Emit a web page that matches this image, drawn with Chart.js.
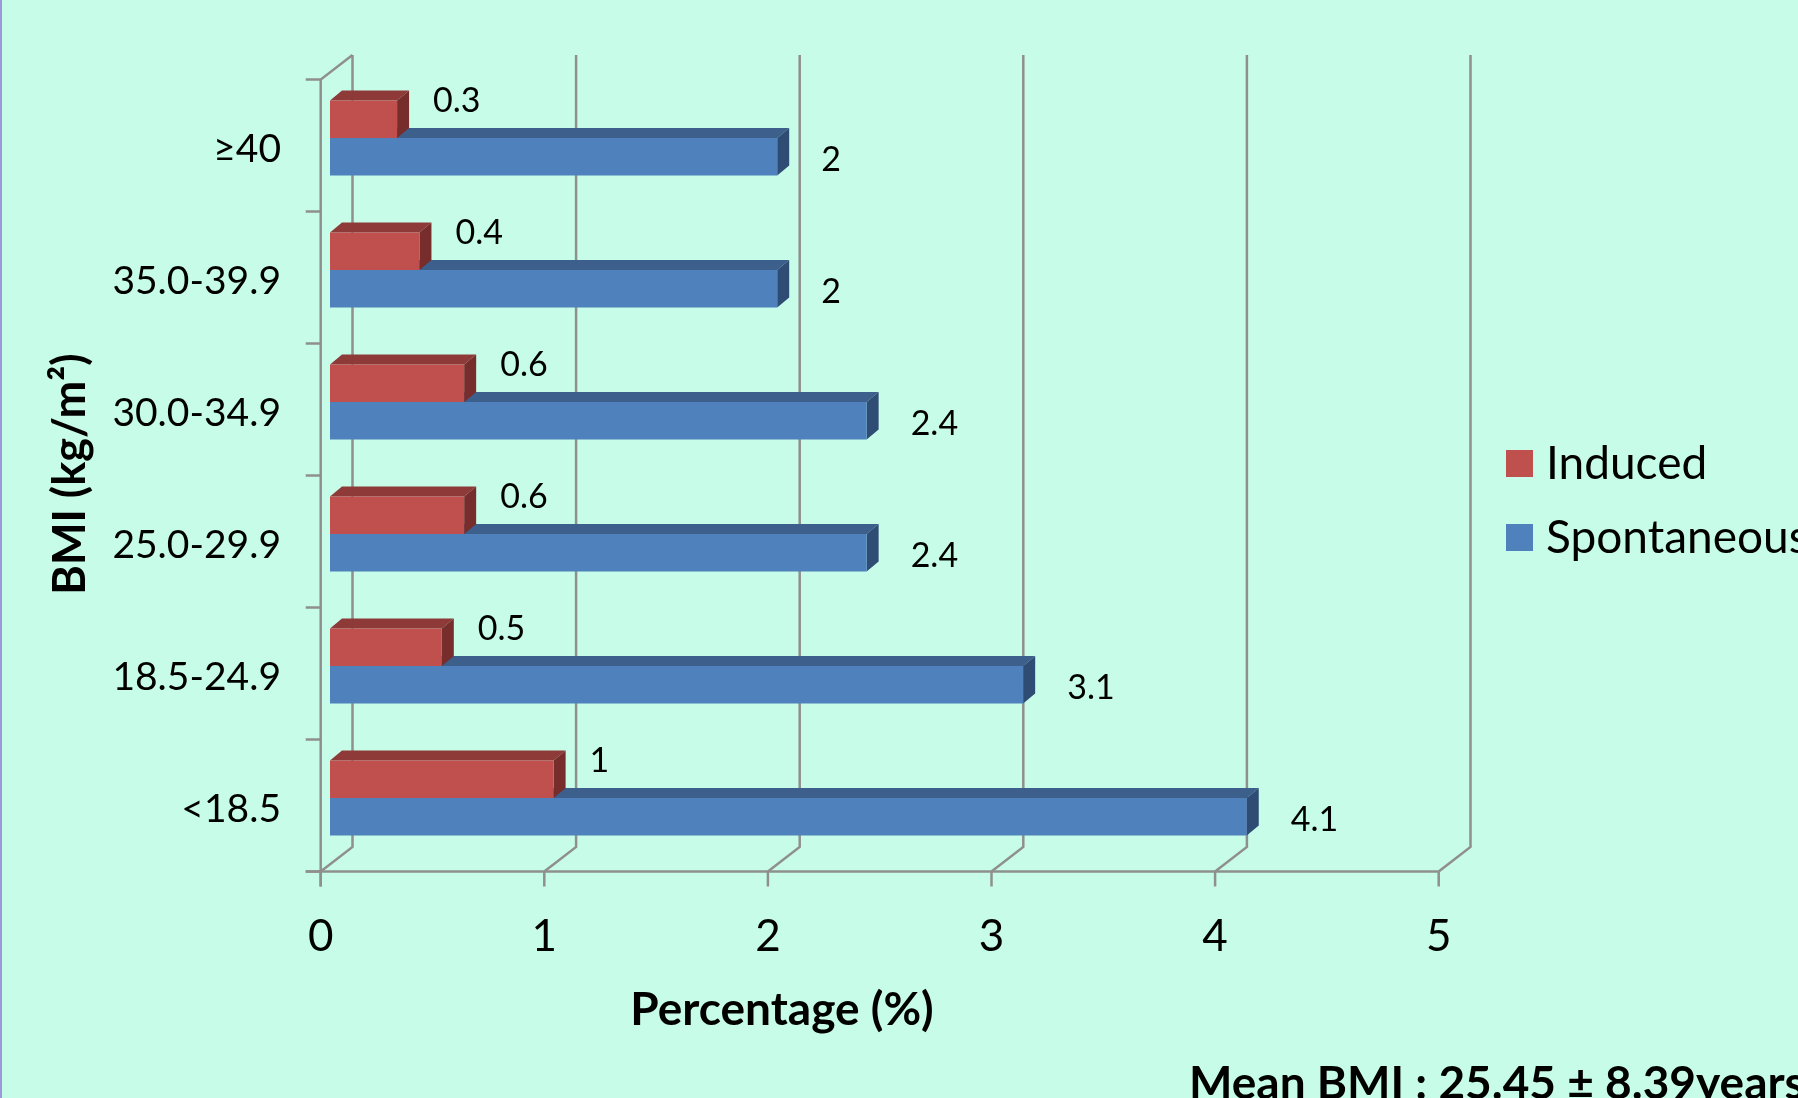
<!DOCTYPE html>
<html>
<head>
<meta charset="utf-8">
<script src="https://cdn.jsdelivr.net/npm/chart.js@4.4.0/dist/chart.umd.min.js"></script>
<style>
  html, body { margin: 0; padding: 0; background: #c7fde8; overflow: hidden; }
  #wrap { width: 1798px; height: 1098px; border-left: 2px solid #9a9ad8; box-sizing: border-box; }
</style>
</head>
<body>
<div id="wrap"><canvas id="bmiChart" width="1796" height="1098"></canvas></div>
<script>
const categories = ['≥40', '35.0-39.9', '30.0-34.9', '25.0-29.9', '18.5-24.9', '<18.5']
const induced = [0.3, 0.4, 0.6, 0.6, 0.5, 1]
const spontaneous = [2, 2, 2.4, 2.4, 3.1, 4.1]
const xTicks = [0, 1, 2, 3, 4, 5]
const seriesNames = ['Induced', 'Spontaneous']

const FONT = 'Lato, "Open Sans", sans-serif'
const GRID = '#8f8f8f'
const FRONT = { dx: -9.3, dy: 7.5 }   // front plane of the box
const BACK = { dx: 22.5, dy: -17 }    // back wall
const DEPTH = { dx: 12, dy: -10 }     // bar depth

const faceColors = [
  { top: '#8d3a38', side: '#772d2b' },
  { top: '#3d5f8b', side: '#2f4c74' }
]

const frame3d = {
  id: 'frame3d',
  beforeDraw(chart) {
    const { ctx, width, height } = chart
    ctx.save()
    ctx.fillStyle = '#c7fde8'
    ctx.fillRect(0, 0, width, height)
    ctx.restore()
  },
  beforeDatasetsDraw(chart) {
    const { ctx, chartArea: a, scales: { x, y } } = chart
    ctx.save()
    ctx.strokeStyle = GRID
    ctx.lineWidth = 2.5

    const line = (pts) => {
      ctx.beginPath()
      ctx.moveTo(pts[0][0], pts[0][1])
      for (let i = 1; i < pts.length; i++) ctx.lineTo(pts[i][0], pts[i][1])
      ctx.stroke()
    }

    // back wall gridlines and floor diagonals
    xTicks.forEach(v => {
      const px = x.getPixelForValue(v)
      line([[px + BACK.dx, a.top + BACK.dy], [px + BACK.dx, a.bottom + BACK.dy], [px + FRONT.dx, a.bottom + FRONT.dy]])
      line([[px + FRONT.dx, a.bottom + FRONT.dy], [px + FRONT.dx, a.bottom + FRONT.dy + 15]])
    })
    // front floor edge
    line([[a.left + FRONT.dx - 15, a.bottom + FRONT.dy], [a.right + FRONT.dx, a.bottom + FRONT.dy]])
    // left wall
    line([[a.left + BACK.dx, a.top + BACK.dy], [a.left + FRONT.dx, a.top + FRONT.dy], [a.left + FRONT.dx, a.bottom + FRONT.dy + 15]])
    const step = y.getPixelForValue(1) - y.getPixelForValue(0)
    for (let i = 0; i <= categories.length; i++) {
      const py = y.getPixelForValue(0) - step / 2 + i * step + FRONT.dy
      line([[a.left + FRONT.dx - 15, py], [a.left + FRONT.dx, py]])
    }

    // top and side faces of the bars, back series first
    ;[1, 0].forEach(di => {
      chart.getDatasetMeta(di).data.forEach(bar => {
        const { x: xe, y: yc, base, height: h } = bar.getProps(['x', 'y', 'base', 'height'], true)
        const t = yc - h / 2, b = yc + h / 2
        ctx.fillStyle = faceColors[di].top
        ctx.beginPath()
        ctx.moveTo(base, t)
        ctx.lineTo(base + DEPTH.dx, t + DEPTH.dy)
        ctx.lineTo(xe + DEPTH.dx, t + DEPTH.dy)
        ctx.lineTo(xe, t)
        ctx.closePath()
        ctx.fill()
        ctx.fillStyle = faceColors[di].side
        ctx.beginPath()
        ctx.moveTo(xe, t)
        ctx.lineTo(xe + DEPTH.dx, t + DEPTH.dy)
        ctx.lineTo(xe + DEPTH.dx, b + DEPTH.dy)
        ctx.lineTo(xe, b)
        ctx.closePath()
        ctx.fill()
      })
    })
    ctx.restore()
  },
  afterDatasetsDraw(chart) {
    const { ctx, scales: { x, y } } = chart
    ctx.save()
    ctx.fillStyle = '#000'

    // value labels
    ctx.font = '34px ' + FONT
    ctx.textAlign = 'left'
    ctx.textBaseline = 'middle'
    chart.data.datasets.forEach((ds, di) => {
      chart.getDatasetMeta(di).data.forEach((bar, i) => {
        const { x: xe, y: yc, height: h } = bar.getProps(['x', 'y', 'height'], true)
        if (di === 0) ctx.fillText(String(ds.data[i]), xe + 36, yc - h / 2 + 1)
        else ctx.fillText(String(ds.data[i]), xe + 44, yc + 3)
      })
    })

    // category labels
    ctx.font = '39px ' + FONT
    ctx.textAlign = 'right'
    categories.forEach((c, i) => {
      ctx.fillText(c, 279, y.getPixelForValue(i) + FRONT.dy + 3.5)
    })

    // x tick labels
    ctx.font = '44px ' + FONT
    ctx.textAlign = 'center'
    xTicks.forEach(v => {
      ctx.fillText(String(v), x.getPixelForValue(v) + FRONT.dx, 937)
    })

    // axis titles
    ctx.font = 'bold 46px ' + FONT
    ctx.fillText('Percentage (%)', 780, 1010)
    ctx.save()
    ctx.translate(68, 474)
    ctx.rotate(-Math.PI / 2)
    ctx.font = 'bold 45px ' + FONT
    ctx.fillText('BMI (kg/m²)', 0, 0)
    ctx.restore()

    // legend
    ctx.font = '46px ' + FONT
    ctx.textAlign = 'left'
    seriesNames.forEach((n, i) => {
      const cy = 463 + i * 74
      ctx.fillStyle = chart.data.datasets[i].backgroundColor
      ctx.fillRect(1504, cy - 13, 27, 27)
      ctx.fillStyle = '#000'
      ctx.fillText(n, 1544, cy + 1)
    })

    // footnote
    ctx.font = 'bold 46px ' + FONT
    ctx.textBaseline = 'alphabetic'
    ctx.fillText('Mean BMI : 25.45 ± 8.39years', 1187, 1099)
    ctx.restore()
  }
}

new Chart(document.getElementById('bmiChart').getContext('2d'), {
  type: 'bar',
  data: {
    labels: categories,
    datasets: [
      { label: seriesNames[0], data: induced, backgroundColor: '#c0504d' },
      { label: seriesNames[1], data: spontaneous, backgroundColor: '#4f81bd' }
    ]
  },
  options: {
    indexAxis: 'y',
    responsive: false,
    animation: false,
    devicePixelRatio: 1,
    categoryPercentage: 0.568,
    barPercentage: 1,
    layout: { padding: { left: 328, right: 350, top: 72, bottom: 234 } },
    plugins: { legend: { display: false }, tooltip: { enabled: false } },
    scales: {
      x: { type: 'linear', min: 0, max: 5, display: false },
      y: { type: 'category', display: false }
    }
  },
  plugins: [frame3d]
})
</script>
</body>
</html>
